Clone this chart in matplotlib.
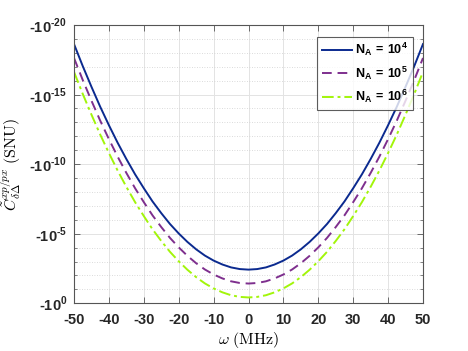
import numpy as np
import matplotlib
matplotlib.use("Agg")
import matplotlib.pyplot as plt
from matplotlib.ticker import FixedLocator, FixedFormatter, NullLocator

plt.rcParams['mathtext.fontset'] = 'custom'
plt.rcParams['mathtext.bf'] = 'Liberation Sans:bold'
plt.rcParams['mathtext.rm'] = 'Liberation Sans:bold'
plt.rcParams['font.family'] = ['Liberation Sans', 'DejaVu Sans']

# Frequency (MHz)
omega = [-50, -47.5, -45, -42.5, -40, -37.5, -35, -32.5, -30, -27.5, -25, -22.5, -20,
         -17.5, -15, -12.5, -10, -7.5, -5, -2.5, 0, 2.5, 5, 7.5, 10, 12.5, 15, 17.5,
         20, 22.5, 25, 27.5, 30, 32.5, 35, 37.5, 40, 42.5, 45, 47.5, 50]
# log10 of |C| (C is negative)
exp_NA4 = [-18.63, -17.05, -15.56, -14.13, -12.80, -11.54, -10.37, -9.27, -8.27, -7.32,
           -6.48, -5.70, -5.02, -4.41, -3.88, -3.43, -3.07, -2.79, -2.58, -2.46, -2.42,
           -2.46, -2.58, -2.79, -3.07, -3.43, -3.88, -4.41, -5.02, -5.70, -6.48, -7.32,
           -8.27, -9.27, -10.37, -11.54, -12.80, -14.13, -15.56, -17.05, -18.63]
exp_NA5 = [-17.63, -16.05, -14.56, -13.13, -11.80, -10.54, -9.37, -8.27, -7.27, -6.32,
           -5.48, -4.70, -4.02, -3.41, -2.88, -2.43, -2.07, -1.79, -1.58, -1.46, -1.42,
           -1.46, -1.58, -1.79, -2.07, -2.43, -2.88, -3.41, -4.02, -4.70, -5.48, -6.32,
           -7.27, -8.27, -9.37, -10.54, -11.80, -13.13, -14.56, -16.05, -17.63]
exp_NA6 = [-16.63, -15.05, -13.56, -12.13, -10.80, -9.54, -8.37, -7.27, -6.27, -5.32,
           -4.48, -3.70, -3.02, -2.41, -1.88, -1.43, -1.07, -0.79, -0.58, -0.46, -0.42,
           -0.46, -0.58, -0.79, -1.07, -1.43, -1.88, -2.41, -3.02, -3.70, -4.48, -5.32,
           -6.27, -7.27, -8.37, -9.54, -10.80, -12.13, -13.56, -15.05, -16.63]
labels = [r'$\mathbf{N_A\,=\,10^4}$', r'$\mathbf{N_A\,=\,10^5}$', r'$\mathbf{N_A\,=\,10^6}$']
colors = ['#0b2a8f', '#7e2f8e', '#a2f50a']
styles = ['-', (0, (5, 3)), (0, (6, 2, 1.5, 2))]

ytick_exps = [-20, -15, -10, -5, 0]
ytick_labels = [r'$\text{-10}^{\text{%d}}$' % e for e in ytick_exps]
xticks = [-50, -40, -30, -20, -10, 0, 10, 20, 30, 40, 50]

fig = plt.figure(figsize=(4.68, 3.51), dpi=100)
ax = fig.add_axes([74/468, 1-303.3/351, 349/468, 278.3/351])

for e, lab, c, ls in zip([exp_NA4, exp_NA5, exp_NA6], labels, colors, styles):
    C = -(10.0 ** np.array(e))
    ax.plot(omega, np.abs(C), color=c, linestyle=ls, linewidth=1.4, label=lab)

ax.set_yscale('log')
ax.set_ylim(1e0, 1e-20)
ax.set_xlim(-50, 50)
ax.yaxis.set_major_locator(FixedLocator([10.0**e for e in ytick_exps]))
ax.yaxis.set_major_formatter(FixedFormatter(ytick_labels))
ax.yaxis.set_minor_locator(FixedLocator([10.0**e for e in range(-20, 1)]))
ax.yaxis.set_minor_formatter(FixedFormatter([]))
ax.set_xticks(xticks)
ax.set_xticklabels([str(v) for v in xticks])
ax.xaxis.set_minor_locator(NullLocator())

ax.grid(True, which='major', color='#e3e3e3', linewidth=0.7, linestyle='-')
ax.grid(True, which='minor', axis='y', color='#cfcfcf', linewidth=0.6, linestyle=(0, (1, 2)))
ax.set_axisbelow(True)

for sp in ax.spines.values():
    sp.set_color('#555555')
    sp.set_linewidth(0.8)
ax.tick_params(which='both', direction='in', top=True, right=True, color='#555555')
ax.tick_params(which='major', length=4, width=0.6)
ax.tick_params(which='minor', length=2.5, width=0.5)
ax.tick_params(axis='x', labelsize=10.5, pad=7, labelcolor='#262626')
ax.tick_params(axis='y', labelsize=10.5, pad=5, labelcolor='#262626')
for t in ax.get_xticklabels():
    t.set_fontweight('bold')

ax.set_xlabel(r'$\omega\ \mathrm{(MHz)}$', fontsize=11.5, math_fontfamily='cm', labelpad=2)
ax.set_ylabel(r'$\tilde{C}_{\delta\Delta}^{xp/px}\ \mathrm{(SNU)}$', fontsize=11.5,
              math_fontfamily='cm')
ax.yaxis.set_label_coords(-0.143, 0.5)

leg = ax.legend(loc='upper right', bbox_to_anchor=(0.970, 0.958), borderaxespad=0,
                fontsize=9, frameon=True, fancybox=False, handlelength=2.4,
                handletextpad=0.3, labelspacing=0.5, borderpad=0.35)
leg.get_frame().set_edgecolor('#333333')
leg.get_frame().set_linewidth(0.8)

fig.savefig('out.png', dpi=100)
